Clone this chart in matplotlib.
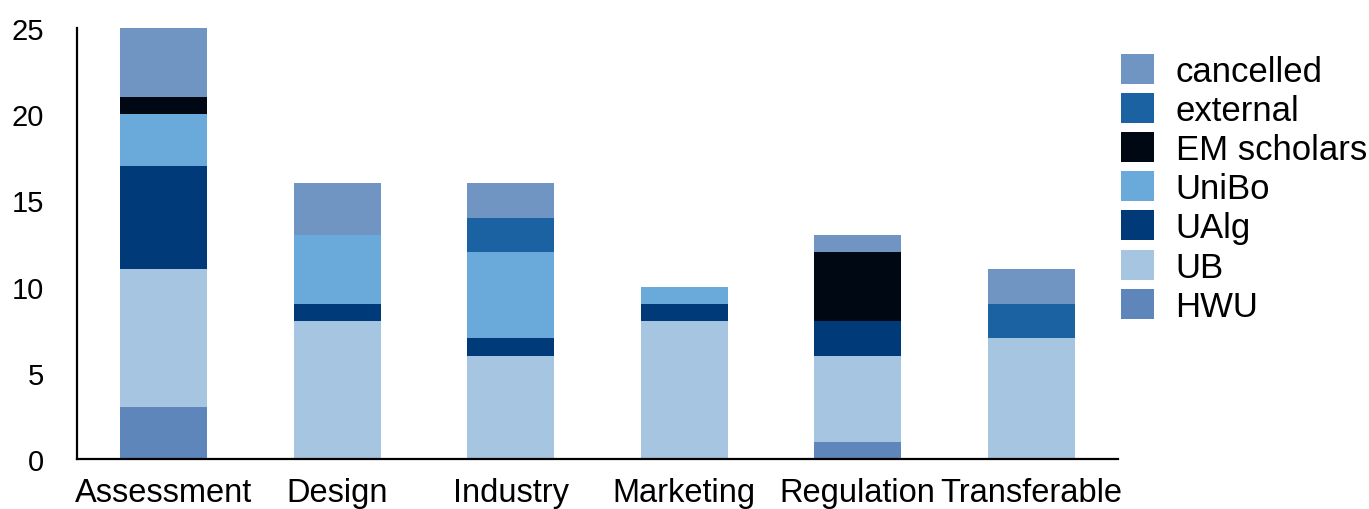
import matplotlib
matplotlib.use("Agg")
import matplotlib.pyplot as plt
import numpy as np

plt.rcParams['font.family'] = ['Liberation Sans', 'DejaVu Sans']

# module enrolments per course, stacked by source
courses = ["Assessment", "Design", "Industry", "Marketing", "Regulation", "Transferable"]
hwu = [3, 0, 0, 0, 1, 0]
ub = [8, 8, 6, 8, 5, 7]
ualg = [6, 1, 1, 1, 2, 0]
unibo = [3, 4, 5, 1, 0, 0]
em_scholars = [1, 0, 0, 0, 4, 0]
external = [0, 0, 2, 0, 0, 2]
cancelled = [4, 3, 2, 0, 1, 2]

series = [("HWU", hwu, "#5e86ba"),
          ("UB", ub, "#a5c5e0"),
          ("UAlg", ualg, "#003a78"),
          ("UniBo", unibo, "#6aaadb"),
          ("EM scholars", em_scholars, "#000814"),
          ("external", external, "#1a62a2"),
          ("cancelled", cancelled, "#7095c3")]

fig = plt.figure(figsize=(13.69, 5.10), dpi=100)
ax = fig.add_axes([77/1369, 50/510, (1118-77)/1369, (460-29)/510])

x = np.arange(len(courses))
bottom = np.zeros(len(courses))
handles = []
for name, vals, col in series:
    b = ax.bar(x, vals, 0.5, bottom=bottom, color=col, label=name, linewidth=0)
    handles.append(b)
    bottom += np.array(vals)

ax.set_xlim(-0.5, 5.5)
ax.set_ylim(0, 25)
ax.set_yticks([0, 5, 10, 15, 20, 25])
ax.set_xticks(x)
ax.set_xticklabels(courses)
ax.tick_params(axis='y', length=0, pad=24, labelsize=21)
ax.tick_params(axis='x', length=0, pad=13, labelsize=23.5)
for s in ["top", "right"]:
    ax.spines[s].set_visible(False)
for s in ["left", "bottom"]:
    ax.spines[s].set_linewidth(1.6)

ax.legend(handles[::-1], [h.get_label() for h in handles[::-1]],
          loc='upper left', bbox_to_anchor=(1121/1369, 1 - 55/510),
          bbox_transform=fig.transFigure, frameon=False, fontsize=25,
          handlelength=0.95, handleheight=0.95, handletextpad=0.62,
          labelspacing=0.15, borderpad=0, borderaxespad=0)

fig.savefig("out.png", dpi=100)
